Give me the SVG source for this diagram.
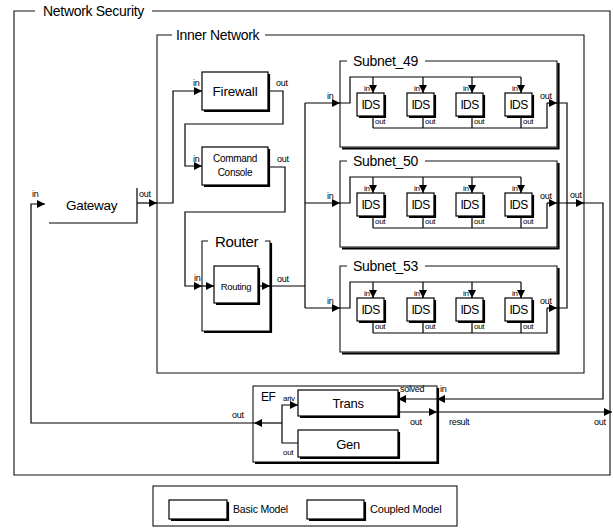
<svg xmlns="http://www.w3.org/2000/svg" width="613" height="532" viewBox="0 0 613 532">
<defs>
<style>
text{font-family:"Liberation Sans",Arial,sans-serif;fill:#000}
.ln{fill:none;stroke:#000;stroke-width:1.2}
.fr{fill:none;stroke:#111;stroke-width:1.1}
.box{fill:#fff;stroke:#000;stroke-width:1.2}
.sh{fill:none;stroke:#000;stroke-width:2.2}
.t14{font-size:14px;letter-spacing:-0.3px}
.p9{font-size:9px;letter-spacing:-0.3px}
.p8{font-size:8px;letter-spacing:-0.3px}
.ids{font-size:12px;letter-spacing:-0.6px}
</style>
<marker id="ah" viewBox="0 0 10 10" refX="10" refY="5" markerWidth="9" markerHeight="8" orient="auto" markerUnits="userSpaceOnUse"><path d="M0,0 L10,5 L0,10 z" fill="#000"/></marker>
<g id="idsbox">
<rect class="box" x="0" y="0" width="27" height="23"/>
<path class="sh" d="M2,24 H28 V2"/>
<text class="ids" x="13.5" y="16" text-anchor="middle">IDS</text>
</g>
</defs>
<rect width="613" height="532" fill="#fff"/>

<!-- Network Security frame -->
<g id="network_security">
<path class="fr" d="M35,11 H14 V475 H610 V11 H152"/>
<text class="t14" x="43" y="16">Network Security</text>
</g>

<!-- Inner Network frame -->
<g id="inner_network">
<path class="fr" d="M172,35 H157 V373 H584 V35 H265"/>
<text class="t14" x="176" y="40">Inner Network</text>
</g>

<g id="gateway">
<path class="ln" d="M49,223 H137 V188"/>
<text x="66" y="210" font-size="13.5" letter-spacing="-0.3">Gateway</text>
<text class="p9" x="32" y="197">in</text>
<text class="p9" x="139" y="197">out</text>
</g>

<g id="firewall">
<rect class="box" x="202" y="72" width="66" height="38"/>
<path class="sh" d="M204,111 H269 V74"/>
<text x="235" y="96" font-size="13.5" text-anchor="middle" letter-spacing="-0.2">Firewall</text>
<text class="p9" x="193" y="86">in</text>
<text class="p9" x="276" y="86">out</text>
</g>

<g id="command_console">
<rect class="box" x="202" y="147" width="66" height="38"/>
<path class="sh" d="M204,186 H269 V149"/>
<text x="235" y="162" font-size="10" text-anchor="middle" letter-spacing="-0.3">Command</text>
<text x="235" y="176" font-size="10" text-anchor="middle" letter-spacing="-0.3">Console</text>
<text class="p9" x="193" y="162">in</text>
<text class="p9" x="277" y="162">out</text>
</g>

<g id="router">
<path class="fr" d="M208,241 H202 V331 H270 V241 H265"/>
<path class="sh" d="M204,332 H271 V243"/>
<text x="215" y="247" font-size="15" letter-spacing="-0.3">Router</text>
<text class="p9" x="194" y="281">in</text>
<text class="p9" x="277" y="282">out</text>
</g>

<g id="routing">
<rect class="box" x="214" y="266" width="44" height="37"/>
<path class="sh" d="M216,304 H259 V268"/>
<text x="236" y="290" font-size="9.5" text-anchor="middle" letter-spacing="-0.3">Routing</text>
</g>

<!-- Subnet_49 -->
<g id="subnet_49">
<path class="fr" d="M347,61 H340 V147 H557 V61 H425"/>
<path class="sh" d="M342,148.5 H558.5 V63"/>
<text class="t14" x="353" y="66">Subnet_49</text>
<text class="p9" x="327" y="99">in</text>
<text class="p9" x="540" y="99">out</text>
<path class="ln" d="M340,103 H350 V77 H521"/>
<path class="ln" d="M373,77 V93" marker-end="url(#ah)"/>
<path class="ln" d="M423,77 V93" marker-end="url(#ah)"/>
<path class="ln" d="M472,77 V93" marker-end="url(#ah)"/>
<path class="ln" d="M521,77 V93" marker-end="url(#ah)"/>
<path class="ln" d="M373,116 V128 M423,116 V128 M472,116 V128 M521,116 V128 M373,128 H547 V103"/>
<path class="ln" d="M547,103 H557" marker-end="url(#ah)"/>
<g id="ids_49_1"><use href="#idsbox" x="357" y="93"/><text class="p8" x="364" y="91">in</text><text class="p8" x="375" y="124">out</text></g>
<g id="ids_49_2"><use href="#idsbox" x="407" y="93"/><text class="p8" x="414" y="91">in</text><text class="p8" x="425" y="124">out</text></g>
<g id="ids_49_3"><use href="#idsbox" x="456" y="93"/><text class="p8" x="463" y="91">in</text><text class="p8" x="474" y="124">out</text></g>
<g id="ids_49_4"><use href="#idsbox" x="505" y="93"/><text class="p8" x="512" y="91">in</text><text class="p8" x="523" y="124">out</text></g>
</g>

<!-- Subnet_50 -->
<g id="subnet_50">
<path class="fr" d="M347,161 H340 V247 H557 V161 H425"/>
<path class="sh" d="M342,248.5 H558.5 V163"/>
<text class="t14" x="353" y="166">Subnet_50</text>
<text class="p9" x="327" y="199">in</text>
<text class="p9" x="540" y="199">out</text>
<path class="ln" d="M340,203 H350 V177 H521"/>
<path class="ln" d="M373,177 V193" marker-end="url(#ah)"/>
<path class="ln" d="M423,177 V193" marker-end="url(#ah)"/>
<path class="ln" d="M472,177 V193" marker-end="url(#ah)"/>
<path class="ln" d="M521,177 V193" marker-end="url(#ah)"/>
<path class="ln" d="M373,216 V228 M423,216 V228 M472,216 V228 M521,216 V228 M373,228 H547 V203"/>
<path class="ln" d="M547,203 H557" marker-end="url(#ah)"/>
<g id="ids_50_1"><use href="#idsbox" x="357" y="193"/><text class="p8" x="364" y="191">in</text><text class="p8" x="375" y="224">out</text></g>
<g id="ids_50_2"><use href="#idsbox" x="407" y="193"/><text class="p8" x="414" y="191">in</text><text class="p8" x="425" y="224">out</text></g>
<g id="ids_50_3"><use href="#idsbox" x="456" y="193"/><text class="p8" x="463" y="191">in</text><text class="p8" x="474" y="224">out</text></g>
<g id="ids_50_4"><use href="#idsbox" x="505" y="193"/><text class="p8" x="512" y="191">in</text><text class="p8" x="523" y="224">out</text></g>
</g>

<!-- Subnet_53 -->
<g id="subnet_53">
<path class="fr" d="M347,266 H340 V352 H557 V266 H425"/>
<path class="sh" d="M342,353.5 H558.5 V268"/>
<text class="t14" x="353" y="271">Subnet_53</text>
<text class="p9" x="327" y="304">in</text>
<text class="p9" x="540" y="304">out</text>
<path class="ln" d="M340,308 H350 V282 H521"/>
<path class="ln" d="M373,282 V298" marker-end="url(#ah)"/>
<path class="ln" d="M423,282 V298" marker-end="url(#ah)"/>
<path class="ln" d="M472,282 V298" marker-end="url(#ah)"/>
<path class="ln" d="M521,282 V298" marker-end="url(#ah)"/>
<path class="ln" d="M373,321 V333 M423,321 V333 M472,321 V333 M521,321 V333 M373,333 H547 V308"/>
<path class="ln" d="M547,308 H557" marker-end="url(#ah)"/>
<g id="ids_53_1"><use href="#idsbox" x="357" y="298"/><text class="p8" x="364" y="296">in</text><text class="p8" x="375" y="329">out</text></g>
<g id="ids_53_2"><use href="#idsbox" x="407" y="298"/><text class="p8" x="414" y="296">in</text><text class="p8" x="425" y="329">out</text></g>
<g id="ids_53_3"><use href="#idsbox" x="456" y="298"/><text class="p8" x="463" y="296">in</text><text class="p8" x="474" y="329">out</text></g>
<g id="ids_53_4"><use href="#idsbox" x="505" y="298"/><text class="p8" x="512" y="296">in</text><text class="p8" x="523" y="329">out</text></g>
</g>

<text class="p9" x="570" y="198">out</text>

<!-- EF -->
<g id="ef">
<rect class="fr" x="253" y="386" width="184" height="76"/>
<path class="sh" d="M255,463 H438 V388"/>
<text x="261" y="401" font-size="12" letter-spacing="-0.6">EF</text>
<text class="p8" x="283" y="401">ariv</text>
<text class="p8" x="283" y="455">out</text>
<text class="p9" x="400" y="392">solved</text>
<text class="p9" x="410" y="425">out</text>
<text class="p9" x="440" y="392">in</text>
</g>
<g id="trans">
<rect class="box" x="298" y="390" width="100" height="26"/>
<path class="sh" d="M300,417 H399 V392"/>
<text x="348" y="408" font-size="13" text-anchor="middle" letter-spacing="-0.3">Trans</text>
</g>
<g id="gen">
<rect class="box" x="298" y="430" width="100" height="27"/>
<path class="sh" d="M300,458 H399 V432"/>
<text x="348" y="449" font-size="13" text-anchor="middle" letter-spacing="-0.3">Gen</text>
</g>

<!-- connectors -->
<g id="connectors">
<path class="ln" d="M137,203 H157" marker-end="url(#ah)"/>
<path class="ln" d="M157,203 H173 V91 H202" marker-end="url(#ah)"/>
<path class="ln" d="M268,91 H283 V124 H185 V166 H202" marker-end="url(#ah)"/>
<path class="ln" d="M268,167 H285 V212 H185 V286 H202" marker-end="url(#ah)"/>
<path class="ln" d="M202,286 H214" marker-end="url(#ah)"/>
<path class="ln" d="M258,286 H270" marker-end="url(#ah)"/>
<path class="ln" d="M270,286 H305 M305,103 V308"/>
<path class="ln" d="M305,103 H340" marker-end="url(#ah)"/>
<path class="ln" d="M305,203 H340" marker-end="url(#ah)"/>
<path class="ln" d="M305,308 H340" marker-end="url(#ah)"/>
<path class="ln" d="M557,103 H567 V308 H557 M557,203 H567"/>
<path class="ln" d="M567,203 H584" marker-end="url(#ah)"/>
<path class="ln" d="M584,203 H603 V399 H437" marker-end="url(#ah)"/>
<path class="ln" d="M437,399 H398" marker-end="url(#ah)"/>
<path class="ln" d="M398,412 H437" marker-end="url(#ah)"/>
<path class="ln" d="M437,412 H612" marker-end="url(#ah)"/>
<path class="ln" d="M298,443 H282 V405 H298" marker-end="url(#ah)"/>
<path class="ln" d="M282,423 H254" marker-end="url(#ah)"/>
<path class="ln" d="M254,423 H31 V204 H45" marker-end="url(#ah)"/>
</g>
<text class="p9" x="232" y="418">out</text>
<text class="p9" x="449" y="425">result</text>
<text class="p9" x="594" y="425">out</text>

<!-- legend -->
<g id="legend">
<rect class="fr" x="153" y="486" width="304" height="40"/>
<rect class="box" x="169" y="500" width="58" height="19"/>
<path class="sh" d="M171,520 H228 V502"/>
<text x="233" y="513" font-size="10.5" letter-spacing="-0.2">Basic Model</text>
<rect class="box" x="307" y="500" width="57" height="19"/>
<path class="sh" d="M309,520 H365 V502"/>
<text x="370" y="513" font-size="11" letter-spacing="-0.2">Coupled Model</text>
</g>
</svg>
